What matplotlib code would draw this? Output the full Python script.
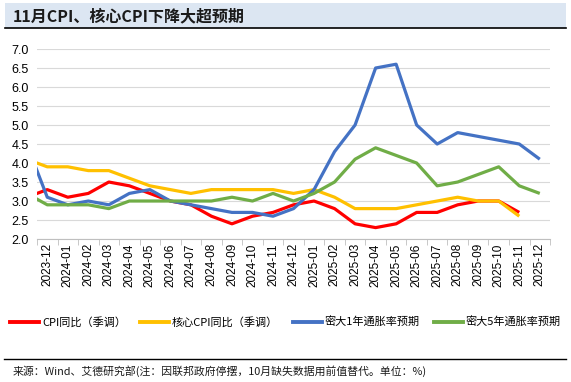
import numpy as np
import matplotlib as mpl
mpl.use('Agg')
import matplotlib.pyplot as plt
from matplotlib.patches import Rectangle
from matplotlib.lines import Line2D

plt.rcParams['font.family'] = ['Noto Sans CJK SC', 'DejaVu Sans']

# 2023-11 is kept only so the first segment runs into the left edge, like the original
months = ['2023-11', '2023-12',
          '2024-01', '2024-02', '2024-03', '2024-04', '2024-05', '2024-06',
          '2024-07', '2024-08', '2024-09', '2024-10', '2024-11', '2024-12',
          '2025-01', '2025-02', '2025-03', '2025-04', '2025-05', '2025-06',
          '2025-07', '2025-08', '2025-09', '2025-10', '2025-11', '2025-12']

cpi_sa = [3.1, 3.3,
          3.1, 3.2, 3.5, 3.4, 3.2, 3.0, 2.9, 2.6, 2.4, 2.6, 2.7, 2.9,
          3.0, 2.8, 2.4, 2.3, 2.4, 2.7, 2.7, 2.9, 3.0, 3.0, 2.7, np.nan]
core_sa = [4.1, 3.9,
           3.9, 3.8, 3.8, 3.6, 3.4, 3.3, 3.2, 3.3, 3.3, 3.3, 3.3, 3.2,
           3.3, 3.1, 2.8, 2.8, 2.8, 2.9, 3.0, 3.1, 3.0, 3.0, 2.6, np.nan]
umich_1y = [4.5, 3.1,
            2.9, 3.0, 2.9, 3.2, 3.3, 3.0, 2.9, 2.8, 2.7, 2.7, 2.6, 2.8,
            3.3, 4.3, 5.0, 6.5, 6.6, 5.0, 4.5, 4.8, 4.7, 4.6, 4.5, 4.1]
umich_5y = [3.2, 2.9,
            2.9, 2.9, 2.8, 3.0, 3.0, 3.0, 3.0, 3.0, 3.1, 3.0, 3.2, 3.0,
            3.2, 3.5, 4.1, 4.4, 4.2, 4.0, 3.4, 3.5, 3.7, 3.9, 3.4, 3.2]

names = ['CPI同比（季调）', '核心CPI同比（季调）', '密大1年通胀率预期', '密大5年通胀率预期']
colors = ['#FF0000', '#FFC000', '#4472C4', '#70AD47']
num_font = ['Liberation Sans', 'DejaVu Sans']

x = np.arange(len(months)) - 1  # index 0 = 2023-12

fig = plt.figure(figsize=(5.71, 3.82), dpi=100)
ax = fig.add_axes([0.0648, 0.3743, 0.8985, 0.4974])

for vals, c, n in zip([cpi_sa, core_sa, umich_1y, umich_5y], colors, names):
    ax.plot(x, vals, color=c, lw=2.3, label=n, solid_capstyle='butt')

ax.set_xlim(-0.5, len(months) - 1.5)
ax.set_ylim(2.0, 7.0)
ax.set_yticks(np.arange(2.0, 7.01, 0.5))
ax.set_yticklabels([f'{v:.1f}' for v in np.arange(2.0, 7.01, 0.5)], fontsize=9,
                   family=num_font)
ax.yaxis.grid(True, color='#D9D9D9', lw=0.8)
ax.set_axisbelow(True)

ax.set_xticks(x[1:])
ax.set_xticklabels(months[1:], rotation=90, fontsize=8.5, family=num_font)
ax.set_xticks(np.arange(-0.5, len(months) - 1.0, 1.0), minor=True)
ax.tick_params(axis='x', which='major', length=0, pad=3)
ax.tick_params(axis='x', which='minor', length=4, color='#BFBFBF')
ax.tick_params(axis='y', length=0, pad=6)

for s in ['top', 'right', 'left']:
    ax.spines[s].set_visible(False)
ax.spines['bottom'].set_color('#BFBFBF')

handles = [Line2D([], [], color=c, lw=2.8) for c in colors]
fig.legend(handles, names, loc='center', bbox_to_anchor=(0.5, 0.157), ncol=4,
           frameon=False, handlelength=2.6, handletextpad=0.25,
           columnspacing=1.3, prop={'family': ['Noto Sans CJK SC'], 'size': 8})

# title bar
fig.patches.append(Rectangle((5 / 571, 1 - 28 / 382), 561 / 571, 25 / 382,
                             transform=fig.transFigure, facecolor='#DCE6F2',
                             edgecolor='none', zorder=0))
fig.add_artist(Line2D([5 / 571, 566 / 571], [1 - 28 / 382] * 2,
                      transform=fig.transFigure, color='black', lw=1.2))
fig.text(13 / 571, 1 - 16 / 382, '11月CPI、核心CPI下降大超预期', fontsize=11.5,
         fontweight='bold', va='center', ha='left', color='#1A1A1A')

# source line
fig.add_artist(Line2D([4 / 571, 566 / 571], [1 - 359 / 382] * 2,
                      transform=fig.transFigure, color='black', lw=1.0))
fig.text(13 / 571, 1 - 371 / 382,
         '来源：Wind、艾德研究部(注：因联邦政府停摆，10月缺失数据用前值替代。单位：%)',
         fontsize=7.8, va='center', ha='left', color='#1A1A1A')

fig.savefig('out.png', dpi=100)
